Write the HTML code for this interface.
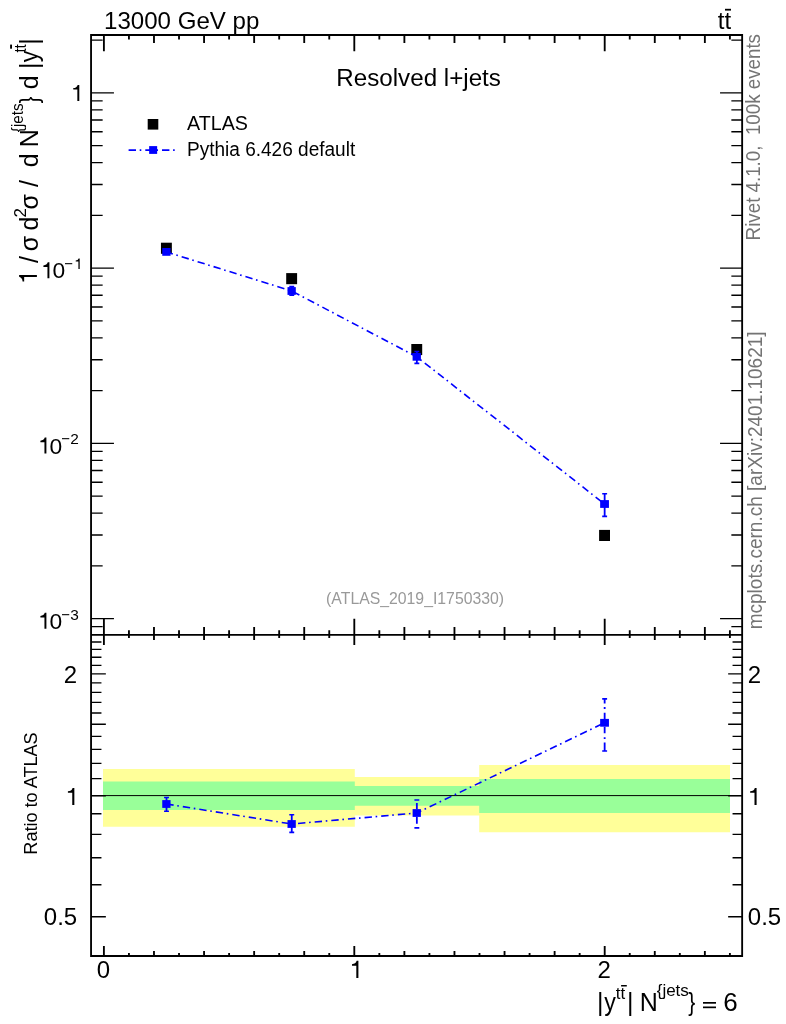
<!DOCTYPE html>
<html><head><meta charset="utf-8"><title>plot</title><style>html,body{margin:0;padding:0;background:#fff;overflow:hidden}svg{display:block}text{font-family:"Liberation Sans",sans-serif}</style></head>
<body>
<svg width="786" height="1024" viewBox="0 0 786 1024">
<rect width="786" height="1024" fill="#fff"/>
<path d="M103.00 769.00L354.80 769.00L354.80 776.90L479.20 776.90L479.20 765.10L730.00 765.10L730.00 832.30L479.20 832.30L479.20 815.60L354.80 815.60L354.80 826.70L103.00 826.70Z" fill="#ffff99"/>
<path d="M103.00 781.40L354.80 781.40L354.80 785.90L479.20 785.90L479.20 778.90L730.00 778.90L730.00 813.00L479.20 813.00L479.20 805.70L354.80 805.70L354.80 810.10L103.00 810.10Z" fill="#99ff99"/>
<line x1="91.05" y1="795.6" x2="742.15" y2="795.6" stroke="#000" stroke-width="1.0"/>
<path d="M91.05 626.67H102.65M731.35 626.67H742.15M91.05 618.65H113.95M720.05 618.65H742.15M91.05 565.89H102.65M731.35 565.89H742.15M91.05 535.03H102.65M731.35 535.03H742.15M91.05 513.14H102.65M731.35 513.14H742.15M91.05 496.16H102.65M731.35 496.16H742.15M91.05 482.28H102.65M731.35 482.28H742.15M91.05 470.55H102.65M731.35 470.55H742.15M91.05 460.38H102.65M731.35 460.38H742.15M91.05 451.42H102.65M731.35 451.42H742.15M91.05 443.40H113.95M720.05 443.40H742.15M91.05 390.64H102.65M731.35 390.64H742.15M91.05 359.78H102.65M731.35 359.78H742.15M91.05 337.89H102.65M731.35 337.89H742.15M91.05 320.91H102.65M731.35 320.91H742.15M91.05 307.03H102.65M731.35 307.03H742.15M91.05 295.30H102.65M731.35 295.30H742.15M91.05 285.13H102.65M731.35 285.13H742.15M91.05 276.17H102.65M731.35 276.17H742.15M91.05 268.15H113.95M720.05 268.15H742.15M91.05 215.39H102.65M731.35 215.39H742.15M91.05 184.53H102.65M731.35 184.53H742.15M91.05 162.64H102.65M731.35 162.64H742.15M91.05 145.66H102.65M731.35 145.66H742.15M91.05 131.78H102.65M731.35 131.78H742.15M91.05 120.05H102.65M731.35 120.05H742.15M91.05 109.88H102.65M731.35 109.88H742.15M91.05 100.92H102.65M731.35 100.92H742.15M91.05 92.90H113.95M720.05 92.90H742.15M91.05 40.14H102.65M731.35 40.14H742.15M91.05 916.71H105.85M728.15 916.71H742.15M91.05 884.77H101.45M732.55 884.77H742.15M91.05 857.77H101.45M732.55 857.77H742.15M91.05 834.38H101.45M732.55 834.38H742.15M91.05 813.75H101.45M732.55 813.75H742.15M91.05 795.70H105.85M728.15 795.70H742.15M91.05 778.61H101.45M732.55 778.61H742.15M91.05 763.37H101.45M732.55 763.37H742.15M91.05 749.35H101.45M732.55 749.35H742.15M91.05 736.37H101.45M732.55 736.37H742.15M91.05 724.28H105.85M728.15 724.28H742.15M91.05 712.98H101.45M732.55 712.98H742.15M91.05 702.36H101.45M732.55 702.36H742.15M91.05 692.35H101.45M732.55 692.35H742.15M91.05 682.88H101.45M732.55 682.88H742.15M91.05 673.89H105.85M728.15 673.89H742.15M91.05 665.35H101.45M732.55 665.35H742.15M91.05 657.20H101.45M732.55 657.20H742.15M91.05 649.42H101.45M732.55 649.42H742.15M91.05 641.96H101.45M732.55 641.96H742.15" stroke="#000" stroke-width="1.4" fill="none"/>
<path d="M103.90 35.00V51.20M103.90 618.70V644.90M103.90 945.95V955.95M128.94 35.00V39.60M128.94 630.30V637.90M128.94 952.95V955.95M153.98 35.00V43.00M153.98 626.90V639.90M153.98 950.95V955.95M179.02 35.00V39.60M179.02 630.30V637.90M179.02 952.95V955.95M204.06 35.00V43.00M204.06 626.90V639.90M204.06 950.95V955.95M229.10 35.00V39.60M229.10 630.30V637.90M229.10 952.95V955.95M254.14 35.00V43.00M254.14 626.90V639.90M254.14 950.95V955.95M279.18 35.00V39.60M279.18 630.30V637.90M279.18 952.95V955.95M304.22 35.00V43.00M304.22 626.90V639.90M304.22 950.95V955.95M329.26 35.00V39.60M329.26 630.30V637.90M329.26 952.95V955.95M354.30 35.00V51.20M354.30 618.70V644.90M354.30 945.95V955.95M379.34 35.00V39.60M379.34 630.30V637.90M379.34 952.95V955.95M404.38 35.00V43.00M404.38 626.90V639.90M404.38 950.95V955.95M429.42 35.00V39.60M429.42 630.30V637.90M429.42 952.95V955.95M454.46 35.00V43.00M454.46 626.90V639.90M454.46 950.95V955.95M479.50 35.00V39.60M479.50 630.30V637.90M479.50 952.95V955.95M504.54 35.00V43.00M504.54 626.90V639.90M504.54 950.95V955.95M529.58 35.00V39.60M529.58 630.30V637.90M529.58 952.95V955.95M554.62 35.00V43.00M554.62 626.90V639.90M554.62 950.95V955.95M579.66 35.00V39.60M579.66 630.30V637.90M579.66 952.95V955.95M604.70 35.00V51.20M604.70 618.70V644.90M604.70 945.95V955.95M629.74 35.00V39.60M629.74 630.30V637.90M629.74 952.95V955.95M654.78 35.00V43.00M654.78 626.90V639.90M654.78 950.95V955.95M679.82 35.00V39.60M679.82 630.30V637.90M679.82 952.95V955.95M704.86 35.00V43.00M704.86 626.90V639.90M704.86 950.95V955.95M729.90 35.00V39.60M729.90 630.30V637.90M729.90 952.95V955.95" stroke="#000" stroke-width="1.85" fill="none"/>
<path d="M91.05 35.0H742.15V955.95H91.05Z M91.05 634.9H742.15" stroke="#000" stroke-width="1.85" fill="none" stroke-linejoin="miter"/>
<rect x="160.95" y="242.70" width="10.9" height="11.1" fill="#000"/>
<rect x="286.20" y="273.10" width="10.9" height="11.1" fill="#000"/>
<rect x="411.30" y="344.00" width="10.9" height="11.1" fill="#000"/>
<rect x="599.10" y="529.90" width="10.9" height="11.1" fill="#000"/>
<path d="M166.40 251.90L291.65 291.00" stroke="#0000ff" stroke-width="1.6" fill="none" stroke-dasharray="7.4 3.7 1.6 4.0" stroke-dashoffset="0.71"/>
<path d="M291.65 291.00L416.75 356.80" stroke="#0000ff" stroke-width="1.6" fill="none" stroke-dasharray="7.4 3.7 1.6 4.0" stroke-dashoffset="15.40"/>
<path d="M416.75 356.80L604.55 504.00" stroke="#0000ff" stroke-width="1.6" fill="none" stroke-dasharray="7.4 3.7 1.6 4.0" stroke-dashoffset="6.50"/>
<path d="M166.50 250.30V253.50" stroke="#0000ff" stroke-width="1.8" fill="none"/>
<path d="" stroke="#0000ff" stroke-width="1.6" fill="none"/>
<path d="M291.75 286.60V295.20" stroke="#0000ff" stroke-width="1.8" fill="none"/>
<path d="M289.30 286.60h4.9M289.30 295.20h4.9" stroke="#0000ff" stroke-width="1.6" fill="none"/>
<path d="M416.85 351.50V363.40" stroke="#0000ff" stroke-width="1.8" fill="none"/>
<path d="M414.40 351.50h4.9M414.40 363.40h4.9" stroke="#0000ff" stroke-width="1.6" fill="none"/>
<path d="M604.65 493.80V516.40" stroke="#0000ff" stroke-width="1.8" fill="none"/>
<path d="M602.20 493.80h4.9M602.20 516.40h4.9" stroke="#0000ff" stroke-width="1.6" fill="none"/>
<rect x="162.25" y="248.00" width="8.3" height="7.8" fill="#0000ff"/>
<rect x="287.50" y="287.10" width="8.3" height="7.8" fill="#0000ff"/>
<rect x="412.60" y="352.90" width="8.3" height="7.8" fill="#0000ff"/>
<rect x="600.15" y="500.10" width="8.8" height="7.8" fill="#0000ff"/>
<path d="M166.40 804.00L291.65 824.00" stroke="#0000ff" stroke-width="1.6" fill="none" stroke-dasharray="7.4 3.7 1.6 4.0" stroke-dashoffset="0.10"/>
<path d="M291.65 824.00L416.75 813.00" stroke="#0000ff" stroke-width="1.6" fill="none" stroke-dasharray="7.4 3.7 1.6 4.0" stroke-dashoffset="10.30"/>
<path d="M416.75 813.00L604.55 722.80" stroke="#0000ff" stroke-width="1.6" fill="none" stroke-dasharray="7.4 3.7 1.6 4.0" stroke-dashoffset="2.40"/>
<path d="M166.50 797.50V811.20" stroke="#0000ff" stroke-width="1.8" fill="none"/>
<path d="M164.05 797.50h4.9M164.05 811.20h4.9" stroke="#0000ff" stroke-width="1.6" fill="none"/>
<path d="M291.75 814.80V832.40" stroke="#0000ff" stroke-width="1.8" fill="none"/>
<path d="M289.30 814.80h4.9M289.30 832.40h4.9" stroke="#0000ff" stroke-width="1.6" fill="none"/>
<path d="M416.85 803.00V809.20M416.85 816.80V823.70" stroke="#0000ff" stroke-width="1.8" fill="none"/>
<path d="M414.40 800.05h4.9M414.40 827.85h4.9" stroke="#0000ff" stroke-width="1.6" fill="none"/>
<path d="M604.65 718.90V712.70M604.65 708.90V706.90M604.65 703.40V698.90M604.65 726.70V733.20M604.65 737.20V739.00M604.65 742.50V751.00" stroke="#0000ff" stroke-width="1.8" fill="none"/>
<path d="M602.20 698.90h4.9M602.20 751.00h4.9" stroke="#0000ff" stroke-width="1.6" fill="none"/>
<rect x="162.25" y="800.10" width="8.3" height="7.8" fill="#0000ff"/>
<rect x="287.50" y="820.10" width="8.3" height="7.8" fill="#0000ff"/>
<rect x="412.60" y="809.10" width="8.3" height="7.8" fill="#0000ff"/>
<rect x="600.15" y="718.90" width="8.8" height="7.8" fill="#0000ff"/>
<rect x="147.7" y="119.0" width="10.6" height="10.6" fill="#000"/>
<path d="M128.6 150.2H175.1" stroke="#0000ff" stroke-width="1.7" stroke-dasharray="7.4 3.7 1.6 4.0"/>
<rect x="149.15" y="146.1" width="8.0" height="7.8" fill="#0000ff"/>
<rect x="725" y="8.8" width="6" height="1.8" fill="#000"/>
<path d="M79.30 84.95L79.30 101.00L77.34 101.00L77.34 89.52L73.28 89.52L73.28 88.08Q76.78 87.94 77.67 84.95Z" fill="#000"/>
<path d="M49.40 262.35L49.40 278.35L47.45 278.35L47.45 266.91L43.40 266.91L43.40 265.47Q46.89 265.33 47.77 262.35Z" fill="#000"/>
<path d="M79.70 258.45L79.70 269.05L78.41 269.05L78.41 261.47L75.73 261.47L75.73 260.51Q78.04 260.42 78.62 258.45Z" fill="#000"/>
<path d="M46.40 437.60L46.40 453.60L44.45 453.60L44.45 442.16L40.40 442.16L40.40 440.72Q43.89 440.58 44.77 437.60Z" fill="#000"/>
<path d="M46.40 612.85L46.40 628.85L44.45 628.85L44.45 617.41L40.40 617.41L40.40 615.97Q43.89 615.83 44.77 612.85Z" fill="#000"/>
<path d="M74.35 787.90L74.35 805.10L72.25 805.10L72.25 792.80L67.90 792.80L67.90 791.25Q71.65 791.10 72.60 787.90Z" fill="#000"/>
<path d="M756.60 787.90L756.60 805.10L754.50 805.10L754.50 792.80L750.15 792.80L750.15 791.25Q753.90 791.10 754.85 787.90Z" fill="#000"/>
<path d="M358.40 960.80L358.40 977.90L356.31 977.90L356.31 965.67L351.99 965.67L351.99 964.13Q355.72 963.98 356.66 960.80Z" fill="#000"/>
<rect x="621.1" y="985" width="5.7" height="1.5" fill="#000"/>
<rect x="703" y="1002.0" width="13" height="1.7" fill="#000"/><rect x="703" y="1006.5" width="13" height="1.7" fill="#000"/>
<path d="M-274.90 -17.80L-274.90 0.00L-277.07 0.00L-277.07 -12.73L-281.57 -12.73L-281.57 -14.33Q-277.69 -14.49 -276.71 -17.80Z" fill="#000" transform="translate(36.9 0) rotate(-90)"/>
<rect x="10.1" y="44.6" width="1.9" height="4.1" fill="#000"/>
<defs><filter id="gs" x="0" y="0" width="786" height="1024" filterUnits="userSpaceOnUse" color-interpolation-filters="sRGB"><feColorMatrix type="saturate" values="0"/></filter></defs>
<g filter="url(#gs)">
<text transform="translate(187.0 129.7) scale(0.985 1)" font-size="20" xml:space="preserve">ATLAS</text>
<text transform="translate(187.0 156.4) scale(0.962 1)" font-size="19.8" xml:space="preserve">Pythia 6.426 default</text>
<text transform="translate(104.0 29.1) scale(0.972 1)" font-size="24.8" xml:space="preserve">13000 GeV pp</text>
<text transform="translate(418.6 86.2) scale(0.975 1)" font-size="24.8" text-anchor="middle" xml:space="preserve">Resolved l+jets</text>
<text transform="translate(717.8 29.3) scale(0.97 1)" font-size="24.8" xml:space="preserve">tt</text>
<text transform="translate(415.1 604.1) scale(0.988 1)" font-size="16" text-anchor="middle" fill="#999" xml:space="preserve">(ATLAS_2019_I1750330)</text>
<text transform="translate(760.4 34.0) rotate(-90) scale(0.962 1)" font-size="19.5" text-anchor="end" fill="#747474" xml:space="preserve">Rivet 4.1.0,  100k events</text>
<text transform="translate(762.0 629.3) rotate(-90) scale(0.975 1)" font-size="19.5" fill="#747474" xml:space="preserve">mcplots.cern.ch [arXiv:2401.10621]</text>
<text transform="translate(36.7 793.5) rotate(-90) scale(0.953 1)" font-size="19" text-anchor="middle" xml:space="preserve">Ratio to ATLAS</text>
<text transform="translate(52.4 278.35)" font-size="22.8" xml:space="preserve">0</text>
<text transform="translate(64.3 269.05) scale(0.97 1)" font-size="15.4" xml:space="preserve">−</text>
<text transform="translate(49.4 453.6)" font-size="22.8" xml:space="preserve">0</text>
<text transform="translate(61.3 444.3) scale(0.97 1)" font-size="15.4" xml:space="preserve">−</text>
<text transform="translate(70.2 444.3)" font-size="15.4" xml:space="preserve">2</text>
<text transform="translate(49.4 628.85)" font-size="22.8" xml:space="preserve">0</text>
<text transform="translate(61.3 619.55) scale(0.97 1)" font-size="15.4" xml:space="preserve">−</text>
<text transform="translate(70.2 619.55)" font-size="15.4" xml:space="preserve">3</text>
<text transform="translate(77.2 682.7946027487163)" font-size="24.0" text-anchor="end" xml:space="preserve">2</text>
<text transform="translate(77.2 925.1053972512835)" font-size="24.0" text-anchor="end" xml:space="preserve">0.5</text>
<text transform="translate(747.8 682.7946027487163)" font-size="24.0" xml:space="preserve">2</text>
<text transform="translate(747.8 925.1053972512835)" font-size="24.0" xml:space="preserve">0.5</text>
<text transform="translate(103.5 978.3)" font-size="24.0" text-anchor="middle" xml:space="preserve">0</text>
<text transform="translate(604.2 978.3)" font-size="24.0" text-anchor="middle" xml:space="preserve">2</text>
<text transform="translate(596.98 1010.7)" font-size="25" xml:space="preserve">|</text>
<text transform="translate(604.15 1010.7) scale(0.93 1)" font-size="25" xml:space="preserve">y</text>
<text transform="translate(615.85 999.3)" font-size="17" xml:space="preserve">tt</text>
<text transform="translate(626.88 1010.7)" font-size="25" xml:space="preserve">|</text>
<text transform="translate(639.85 1010.7)" font-size="25" xml:space="preserve">N</text>
<text transform="translate(656.71 996.2)" font-size="17" xml:space="preserve">{jets</text>
<text transform="translate(688.14 1010.7) scale(0.84 1)" font-size="25" xml:space="preserve">}</text>
<text transform="translate(723.37 1010.7)" font-size="26" xml:space="preserve">6</text>
<text transform="translate(37.9 262.9) rotate(-90)" font-size="25" xml:space="preserve">/</text>
<text transform="translate(37.9 251.35) rotate(-90)" font-size="25" xml:space="preserve">σ</text>
<text transform="translate(37.9 230.45) rotate(-90)" font-size="25" xml:space="preserve">d</text>
<text transform="translate(26.2 217.55) rotate(-90)" font-size="17" xml:space="preserve">2</text>
<text transform="translate(37.9 209.55) rotate(-90)" font-size="25" xml:space="preserve">σ</text>
<text transform="translate(37.9 187.1) rotate(-90)" font-size="25" xml:space="preserve">/</text>
<text transform="translate(37.9 167.15) rotate(-90)" font-size="25" xml:space="preserve">d</text>
<text transform="translate(37.9 147.15) rotate(-90)" font-size="25" xml:space="preserve">N</text>
<text transform="translate(22.7 132.16) rotate(-90) scale(0.895 1)" font-size="17" xml:space="preserve">{jets</text>
<text transform="translate(37.9 103.24) rotate(-90) scale(0.8 1)" font-size="25" xml:space="preserve">}</text>
<text transform="translate(37.9 89.35) rotate(-90)" font-size="25" xml:space="preserve">d</text>
<text transform="translate(37.9 69.02) rotate(-90)" font-size="25" xml:space="preserve">|</text>
<text transform="translate(37.9 62.35) rotate(-90) scale(0.93 1)" font-size="25" xml:space="preserve">y</text>
<text transform="translate(25.5 52.62) rotate(-90) scale(0.88 1)" font-size="17" xml:space="preserve">tt</text>
<text transform="translate(37.9 44.83) rotate(-90)" font-size="25" xml:space="preserve">|</text>
</g>
</svg></body></html>
